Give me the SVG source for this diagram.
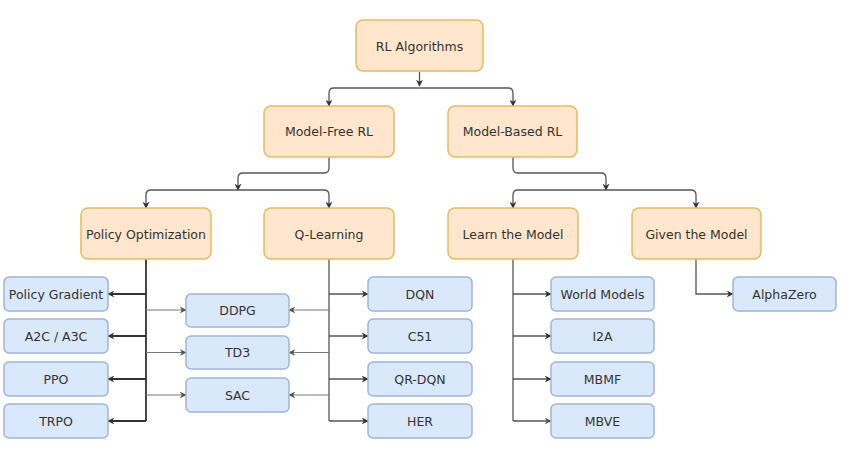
<svg xmlns="http://www.w3.org/2000/svg" width="850" height="450" viewBox="0 0 850 450">
<defs>
<marker id="ah" viewBox="0 0 10 10" refX="9" refY="5" markerWidth="7" markerHeight="7" markerUnits="userSpaceOnUse" orient="auto">
<path d="M0,0 L10,5 L0,10 L3,5 Z" fill="#333"/>
</marker>
<marker id="ahg" viewBox="0 0 10 10" refX="9" refY="5" markerWidth="7" markerHeight="7" markerUnits="userSpaceOnUse" orient="auto">
<path d="M0,0 L10,5 L0,10 L3,5 Z" fill="#555"/>
</marker>
<style>
.o{fill:#ffe6cc;stroke:#e6bb62;stroke-width:1.5}
.b{fill:#dae8fc;stroke:#9fb5d8;stroke-width:1.5}
text{font-family:"DejaVu Sans",Verdana,sans-serif;font-size:12.5px;fill:#333;text-anchor:middle;dominant-baseline:central}
.c{fill:none;stroke:#555;stroke-width:1.3}
.k{fill:none;stroke:#333;stroke-width:1.8}
.g{fill:none;stroke:#777;stroke-width:1.1}
</style>
</defs>
<rect width="850" height="450" fill="#fff"/>
<g id="connectors">
<path class="c" d="M419.5,72 V86" marker-end="url(#ah)"/>
<path class="c" d="M419.5,88 H334 Q329,88 329,93 V106" marker-end="url(#ah)"/>
<path class="c" d="M419.5,88 H508 Q513,88 513,93 V106" marker-end="url(#ah)"/>
<path class="c" d="M329,157 V168 Q329,173 324,173 H243 Q238,173 238,178 V190" marker-end="url(#ah)"/>
<path class="c" d="M238,190 H151 Q146,190 146,195 V208" marker-end="url(#ah)"/>
<path class="c" d="M238,190 H324 Q329,190 329,195 V208" marker-end="url(#ah)"/>
<path class="c" d="M513,157 V168 Q513,173 518,173 H601 Q606,173 606,178 V190" marker-end="url(#ah)"/>
<path class="c" d="M606,190 H518 Q513,190 513,195 V208" marker-end="url(#ah)"/>
<path class="c" d="M606,190 H691 Q696,190 696,195 V208" marker-end="url(#ah)"/>
<path class="k" d="M146,259 V421"/>
<path class="k" d="M146,294 H108" marker-end="url(#ah)"/>
<path class="k" d="M146,336 H108" marker-end="url(#ah)"/>
<path class="k" d="M146,379 H108" marker-end="url(#ah)"/>
<path class="k" d="M146,421 H108" marker-end="url(#ah)"/>
<path class="g" d="M146,310 H186" marker-end="url(#ahg)"/>
<path class="g" d="M146,352.5 H186" marker-end="url(#ahg)"/>
<path class="g" d="M146,395 H186" marker-end="url(#ahg)"/>
<path class="c" d="M329,259 V421"/>
<path class="g" d="M329,310 H289" marker-end="url(#ahg)"/>
<path class="g" d="M329,352.5 H289" marker-end="url(#ahg)"/>
<path class="g" d="M329,395 H289" marker-end="url(#ahg)"/>
<path class="c" d="M329,294 H368" marker-end="url(#ah)"/>
<path class="c" d="M329,336 H368" marker-end="url(#ah)"/>
<path class="c" d="M329,379 H368" marker-end="url(#ah)"/>
<path class="c" d="M329,421 H368" marker-end="url(#ah)"/>
<path class="c" d="M513,259 V421"/>
<path class="c" d="M513,294 H551" marker-end="url(#ah)"/>
<path class="c" d="M513,336 H551" marker-end="url(#ah)"/>
<path class="c" d="M513,379 H551" marker-end="url(#ah)"/>
<path class="c" d="M513,421 H551" marker-end="url(#ahg)"/>
<path class="c" d="M696,259 V294 H733" marker-end="url(#ah)"/>
</g>
<g id="rl"><rect class="o" x="356" y="20" width="127" height="51" rx="7"/><text x="419.5" y="46">RL Algorithms</text></g>
<g id="modelfree"><rect class="o" x="264" y="106" width="130" height="51" rx="7"/><text x="329" y="131.5">Model-Free RL</text></g>
<g id="modelbased"><rect class="o" x="448" y="106" width="129" height="51" rx="7"/><text x="512.5" y="131.5">Model-Based RL</text></g>
<g id="policyopt"><rect class="o" x="81" y="208" width="130" height="51" rx="7"/><text x="146" y="234">Policy Optimization</text></g>
<g id="qlearning"><rect class="o" x="264" y="208" width="130" height="51" rx="7"/><text x="329" y="234">Q-Learning</text></g>
<g id="learnmodel"><rect class="o" x="448" y="208" width="130" height="51" rx="7"/><text x="513" y="234">Learn the Model</text></g>
<g id="givenmodel"><rect class="o" x="632" y="208" width="129" height="51" rx="7"/><text x="696.5" y="234">Given the Model</text></g>
<g id="pg"><rect class="b" x="4" y="277" width="104" height="34" rx="5"/><text x="56" y="294">Policy Gradient</text></g>
<g id="a2c"><rect class="b" x="4" y="319" width="104" height="34" rx="5"/><text x="56" y="336">A2C / A3C</text></g>
<g id="ppo"><rect class="b" x="4" y="362" width="104" height="34" rx="5"/><text x="56" y="379">PPO</text></g>
<g id="trpo"><rect class="b" x="4" y="404" width="104" height="34" rx="5"/><text x="56" y="421">TRPO</text></g>
<g id="ddpg"><rect class="b" x="186" y="294" width="103" height="33" rx="5"/><text x="237.5" y="310.5">DDPG</text></g>
<g id="td3"><rect class="b" x="186" y="336" width="103" height="33" rx="5"/><text x="237.5" y="352.5">TD3</text></g>
<g id="sac"><rect class="b" x="186" y="378" width="103" height="34" rx="5"/><text x="237.5" y="395">SAC</text></g>
<g id="dqn"><rect class="b" x="368" y="277" width="104" height="34" rx="5"/><text x="420" y="294">DQN</text></g>
<g id="c51"><rect class="b" x="368" y="319" width="104" height="34" rx="5"/><text x="420" y="336">C51</text></g>
<g id="qrdqn"><rect class="b" x="368" y="362" width="104" height="34" rx="5"/><text x="420" y="379">QR-DQN</text></g>
<g id="her"><rect class="b" x="368" y="404" width="104" height="34" rx="5"/><text x="420" y="421">HER</text></g>
<g id="worldmodels"><rect class="b" x="551" y="277" width="103" height="34" rx="5"/><text x="602.5" y="294">World Models</text></g>
<g id="i2a"><rect class="b" x="551" y="319" width="103" height="34" rx="5"/><text x="602.5" y="336">I2A</text></g>
<g id="mbmf"><rect class="b" x="551" y="362" width="103" height="34" rx="5"/><text x="602.5" y="379">MBMF</text></g>
<g id="mbve"><rect class="b" x="551" y="404" width="103" height="34" rx="5"/><text x="602.5" y="421">MBVE</text></g>
<g id="alphazero"><rect class="b" x="733" y="277" width="103" height="34" rx="5"/><text x="784.5" y="294">AlphaZero</text></g>
</svg>
